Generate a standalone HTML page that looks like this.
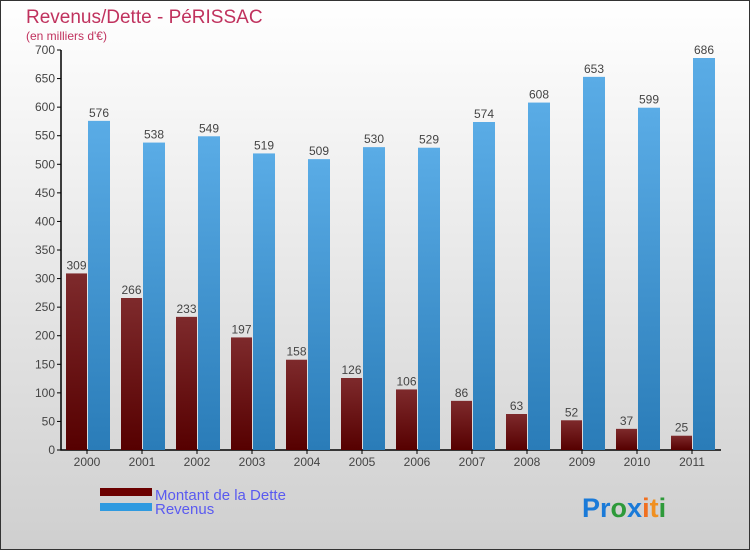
<!DOCTYPE html>
<html><head><meta charset="utf-8"><style>
body{margin:0;width:750px;height:550px;overflow:hidden;font-family:"Liberation Sans",sans-serif}
</style></head><body>
<svg width="750" height="550" viewBox="0 0 750 550" xmlns="http://www.w3.org/2000/svg">
<defs>
<linearGradient id="bg" x1="0" y1="0" x2="0" y2="1"><stop offset="0" stop-color="#ffffff"/><stop offset="1" stop-color="#cfcfcf"/></linearGradient>
<linearGradient id="gd" x1="0" y1="0" x2="0" y2="1"><stop offset="0" stop-color="#7e2a2c"/><stop offset="1" stop-color="#560000"/></linearGradient>
<linearGradient id="gr" x1="0" y1="0" x2="0" y2="1"><stop offset="0" stop-color="#5aace6"/><stop offset="1" stop-color="#2a7cb8"/></linearGradient>
</defs>
<rect x="0.5" y="0.5" width="749" height="549" fill="url(#bg)" stroke="#333"/>
<text x="26" y="23" font-size="19" fill="#c0325e">Revenus/Dette - PéRISSAC</text>
<text x="26" y="40" font-size="12" fill="#c0325e">(en milliers d'€)</text>
<g id="plot"></g>
<rect x="100" y="488" width="52" height="8" fill="#6b0000"/>
<text x="155" y="500" font-size="15" fill="#5a5af0">Montant de la Dette</text>
<rect x="100" y="503" width="52" height="8" fill="#2f9ae0"/>
<text x="155" y="514" font-size="15" fill="#5a5af0">Revenus</text>
<text x="582" y="517" font-size="27" font-weight="bold"><tspan fill="#1a7ad8">Pr</tspan><tspan fill="#2e9a3a">o</tspan><tspan fill="#1a7ad8">x</tspan><tspan fill="#f07020">i</tspan><tspan fill="#f09020">t</tspan><tspan fill="#2e9a3a">i</tspan></text>
</svg>
<script>
const years=["2000","2001","2002","2003","2004","2005","2006","2007","2008","2009","2010","2011"];
const dette=[309,266,233,197,158,126,106,86,63,52,37,25];
const revenus=[576,538,549,519,509,530,529,574,608,653,599,686];
const yTicks=[0,50,100,150,200,250,300,350,400,450,500,550,600,650,700];
const NS="http://www.w3.org/2000/svg";
const g=document.getElementById("plot");
const y=v=>450-v*400/700;
const xc=i=>87+i*55;
function mk(t,a){const e=document.createElementNS(NS,t);for(const k in a)e.setAttribute(k,a[k]);g.appendChild(e);return e;}
let ax=mk("path",{d:"M61 50V450H721",stroke:"#000",fill:"none","stroke-width":"1.5"});


yTicks.forEach(v=>{
 let t=mk("line",{x1:57,x2:61,y1:y(v),y2:y(v),stroke:"#000"});
 
 
 let l=mk("text",{x:55,y:y(v)+4,"font-size":"12","text-anchor":"end",fill:"#444"});
 l.textContent=v;
 
 
});
years.forEach((yr,i)=>{
 const c=xc(i);
 let t=mk("line",{x1:c,x2:c,y1:450,y2:454,stroke:"#000"});
 
 
 let l=mk("text",{x:c,y:466,"font-size":"12","text-anchor":"middle",fill:"#444"});
 l.textContent=yr;
 
 
 let b1=mk("rect",{x:c-21,y:y(dette[i]),width:21,height:450-y(dette[i]),fill:"url(#gd)"});
 
 
 let v1=mk("text",{x:c-10.5,y:y(dette[i])-4,"font-size":"12","text-anchor":"middle",fill:"#444"});
 v1.textContent=dette[i];
 
 
 let b2=mk("rect",{x:c+1,y:y(revenus[i]),width:22,height:450-y(revenus[i]),fill:"url(#gr)"});
 
 
 let v2=mk("text",{x:c+12,y:y(revenus[i])-4,"font-size":"12","text-anchor":"middle",fill:"#444"});
 v2.textContent=revenus[i];
 
 
});
</script>
</body></html>
